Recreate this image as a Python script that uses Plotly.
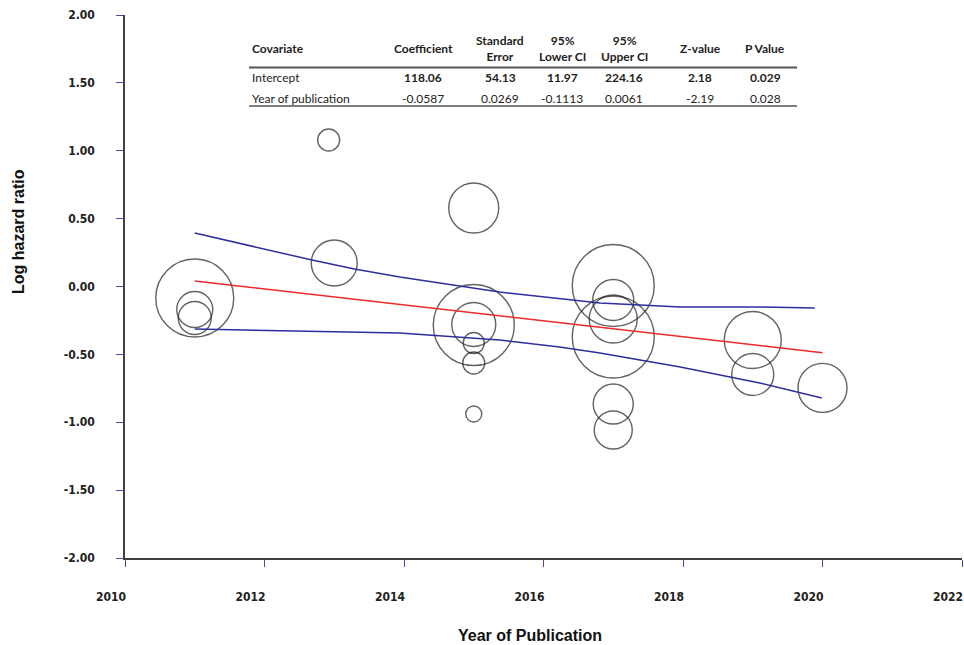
import plotly.graph_objects as go

# ---- study-level estimates (bubble = one study, size = weight) ----
pub_year = [2011, 2011, 2011, 2013, 2012.92,
            2015, 2015, 2015, 2015, 2015, 2015,
            2017, 2017, 2017, 2017, 2017, 2017,
            2019, 2019, 2020]
log_hr = [-0.085, -0.169, -0.232, 0.173, 1.079,
          0.578, -0.284, -0.280, -0.416, -0.564, -0.939,
          0.007, -0.099, -0.239, -0.372, -0.866, -1.057,
          -0.394, -0.648, -0.747]
weight = [15.21, 3.24, 2.72, 5.29, 1.21,
          6.25, 16.40, 4.84, 1.10, 1.21, 0.64,
          16.81, 4.20, 5.76, 16.81, 4.00, 3.61,
          8.12, 4.41, 6.00]

# ---- meta-regression fit ----
intercept = 118.06
slope = -0.058687
fit_years = [2011, 2020]

# ---- 95% confidence band ----
ci_upper_x = [2011.00, 2012.68, 2013.29, 2013.94, 2015.37, 2016.81, 2017.96, 2019.10, 2019.89]
ci_upper_y = [0.394, 0.195, 0.129, 0.070, -0.041, -0.122, -0.151, -0.151, -0.158]
ci_lower_x = [2011.00, 2012.50, 2013.94, 2015.37, 2016.23, 2016.81, 2017.96, 2019.10, 2019.99]
ci_lower_y = [-0.313, -0.326, -0.343, -0.394, -0.446, -0.490, -0.593, -0.711, -0.821]

# ---- axis ticks ----
x_tickvals = [2010, 2012, 2014, 2016, 2018, 2020, 2022]
x_ticktext = ["2010", "2012", "2014", "2016", "2018", "2020", "2022"]
y_tickvals = [2.0, 1.5, 1.0, 0.5, 0.0, -0.5, -1.0, -1.5, -2.0]
y_ticktext = ["2.00", "1.50", "1.00", "0.50", "0.00", "-0.50", "-1.00", "-1.50", "-2.00"]

# ---- regression table ----
table_header = ["Covariate", "Coefficient", "Standard<br>Error", "95%<br>Lower CI",
                "95%<br>Upper CI", "Z-value", "P Value"]
table_rows = [
    ["Intercept", "118.06", "54.13", "11.97", "224.16", "2.18", "0.029"],
    ["Year of publication", "-0.0587", "0.0269", "-0.1113", "0.0061", "-2.19", "0.028"],
]

W, H = 964, 645
L, R, T, B = 125, 2, 15, 87
PW, PH = W - L - R, H - T - B


def px_x(p):
    return (p - L) / PW


def px_y(p):
    return (H - B - p) / PH


NAVY = "#2e2e9c"
TICK = "#4a4aa8"
AXIS = "#404040"
NARROW = "DejaVu Sans Condensed, Liberation Sans Narrow, sans-serif"

fig = go.Figure()

fig.add_trace(go.Scatter(
    x=pub_year, y=log_hr, mode="markers",
    marker=dict(size=weight, sizemode="area", sizeref=0.005,
                color="rgba(0,0,0,0)", line=dict(color="#222222", width=1.4)),
    hoverinfo="skip"))

fig.add_trace(go.Scatter(x=ci_upper_x, y=ci_upper_y, mode="lines",
                         line=dict(color=NAVY, width=1.5), hoverinfo="skip"))
fig.add_trace(go.Scatter(x=ci_lower_x, y=ci_lower_y, mode="lines",
                         line=dict(color=NAVY, width=1.5), hoverinfo="skip"))
fig.add_trace(go.Scatter(x=fit_years, y=[intercept + slope * yr for yr in fit_years],
                         mode="lines", line=dict(color="#f02828", width=1.5),
                         hoverinfo="skip"))

fig.update_layout(
    width=W, height=H, template="none",
    margin=dict(l=L, r=R, t=T, b=B),
    plot_bgcolor="white", paper_bgcolor="white", showlegend=False,
)
fig.update_xaxes(
    range=[2010, 2022], tickvals=x_tickvals, ticktext=x_ticktext,
    ticks="outside", ticklen=7, tickwidth=1, tickcolor=TICK,
    showline=True, linecolor=AXIS, linewidth=1.5, showgrid=False, zeroline=False,
    tickfont=dict(family=NARROW, size=12, color="#222222", weight="bold"),
    ticklabelstandoff=20, ticklabelshift=-14, automargin=False,
)
fig.update_yaxes(
    range=[-2, 2], tickvals=y_tickvals, ticktext=y_ticktext,
    ticks="outside", ticklen=7, tickwidth=1, tickcolor=TICK,
    showline=True, linecolor=AXIS, linewidth=1.5, showgrid=False, zeroline=False,
    tickfont=dict(family=NARROW, size=12, color="#222222", weight="bold"),
    ticklabelstandoff=19, automargin=False,
)

ann = []
ann.append(dict(text="Year of Publication", xref="paper", yref="paper",
                x=px_x(530), y=px_y(635), xanchor="center", yanchor="middle",
                showarrow=False,
                font=dict(family="Liberation Sans, Arial", size=16, color="#111111",
                          weight="bold")))
ann.append(dict(text="Log hazard ratio", xref="paper", yref="paper",
                x=px_x(18), y=px_y(232), xanchor="center", yanchor="middle",
                textangle=-90, showarrow=False,
                font=dict(family="Liberation Sans, Arial", size=16, color="#111111",
                          weight="bold")))

# table layout
col_x = [250, 423, 500, 562, 624, 700, 765]
header_y = 49
row_y = [77, 98]
tfont = "Lato, Open Sans, sans-serif"
for j, txt in enumerate(table_header):
    ann.append(dict(text=txt, xref="paper", yref="paper",
                    x=px_x(col_x[j]), y=px_y(header_y),
                    xanchor="left" if j == 0 else "center", yanchor="middle",
                    align="left" if j == 0 else "center", showarrow=False,
                    font=dict(family=tfont, size=12, color="#222222", weight="bold")))
for i, row in enumerate(table_rows):
    for j, txt in enumerate(row):
        ann.append(dict(text=txt, xref="paper", yref="paper",
                        x=px_x(col_x[j]), y=px_y(row_y[i]),
                        xanchor="left" if j == 0 else "center", yanchor="middle",
                        showarrow=False,
                        font=dict(family=tfont, size=12, color="#222222",
                                  weight="bold" if (i == 0 and j > 0) else "normal")))
fig.update_layout(annotations=ann)

fig.add_shape(type="line", xref="paper", yref="paper",
              x0=px_x(249), x1=px_x(797), y0=px_y(67.5), y1=px_y(67.5),
              line=dict(color="#555555", width=2))
fig.add_shape(type="line", xref="paper", yref="paper",
              x0=px_x(249), x1=px_x(797), y0=px_y(106), y1=px_y(106),
              line=dict(color="#555555", width=1.5))

fig.write_html("out.html")
